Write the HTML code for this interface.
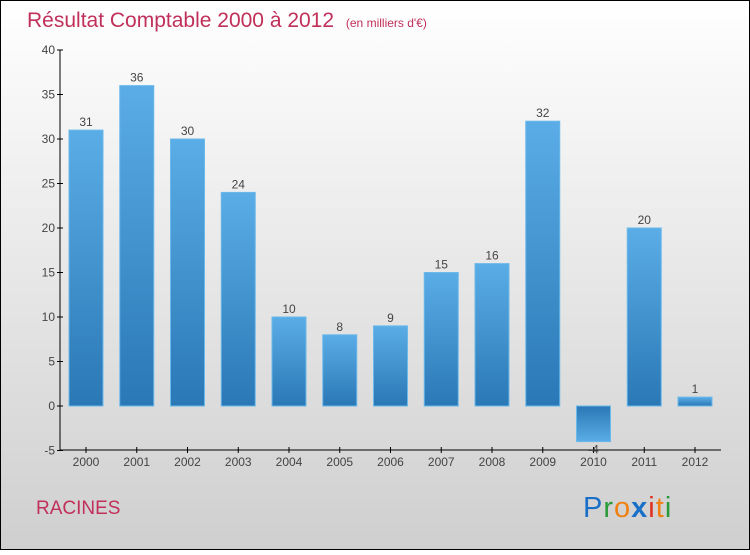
<!DOCTYPE html>
<html><head><meta charset="utf-8"><style>
body{margin:0}
svg text{font-family:"Liberation Sans",sans-serif}
</style></head><body>
<svg width="750" height="550" viewBox="0 0 750 550" xmlns="http://www.w3.org/2000/svg">
<defs>
<linearGradient id="bg" x1="0" y1="0" x2="0" y2="1"><stop offset="0" stop-color="#ffffff"/><stop offset="1" stop-color="#cfcfcf"/></linearGradient>
<linearGradient id="bp" x1="0" y1="0" x2="0" y2="1"><stop offset="0" stop-color="#5aade6"/><stop offset="1" stop-color="#2a78b6"/></linearGradient>
<linearGradient id="bn" x1="0" y1="0" x2="0" y2="1"><stop offset="0" stop-color="#2a78b6"/><stop offset="1" stop-color="#5aade6"/></linearGradient>
</defs>
<rect x="0.5" y="0.5" width="749" height="549" fill="url(#bg)" stroke="#000"/>
<text x="27" y="27" font-size="21" fill="#c0305a">Résultat Comptable 2000 à 2012 <tspan font-size="12" dx="6">(en milliers d'€)</tspan></text>
<g id="axes"></g>
<g id="bars"></g>
<text x="36" y="514" font-size="19" fill="#c0305a">RACINES</text>
<g font-size="29">
<text x="583" y="517" letter-spacing="1"><tspan fill="#1a6fc8">P</tspan><tspan fill="#2a9a3a">r</tspan><tspan fill="#f08010">o</tspan><tspan fill="#1a6fc8" font-weight="bold">x</tspan><tspan fill="#e03020">i</tspan><tspan fill="#f08010">t</tspan><tspan fill="#2a9a3a">i</tspan></text>
</g>
</svg>
<script>
const categories=["2000","2001","2002","2003","2004","2005","2006","2007","2008","2009","2010","2011","2012"];
const values=[31,36,30,24,10,8,9,15,16,32,-4,20,1];
const yTicks=[-5,0,5,10,15,20,25,30,35,40];
const NS="http://www.w3.org/2000/svg";
const y=v=>406-v*8.9;
const x=i=>86+i*50.75;
function mk(t,a,p){const e=document.createElementNS(NS,t);for(const k in a)e.setAttribute(k,a[k]);p.appendChild(e);return e;}
const ax=document.getElementById('axes'),bs=document.getElementById('bars');
const yl=mk('line',{x1:60,y1:50,x2:60,y2:450,stroke:'#000'},ax);


const xl=mk('line',{x1:60,y1:450,x2:721,y2:450,stroke:'#000'},ax);


yTicks.forEach(t=>{
 mk('line',{x1:57,x2:63,y1:y(t),y2:y(t),stroke:'#000'},ax);
 const tx=mk('text',{x:55,y:y(t)+4,'text-anchor':'end','font-size':12,fill:'#444'},ax);
 tx.textContent=t;
 
 
});
categories.forEach((c,i)=>{
 mk('line',{x1:x(i),x2:x(i),y1:447,y2:453,stroke:'#000'},ax);
 const tx=mk('text',{x:x(i),y:466,'text-anchor':'middle','font-size':12,fill:'#444'},ax);
 tx.textContent=c;
 
 
 const v=values[i];
 const r=mk('rect',{x:x(i)-17,width:34,y:Math.min(y(v),y(0)),height:Math.abs(y(v)-y(0)),fill:v>=0?'url(#bp)':'url(#bn)',stroke:'#6bb8ea','stroke-width':1},bs);
 
 
 const lt=mk('text',{x:x(i),y:v>=0?y(v)-4:y(v)+12,'text-anchor':'middle','font-size':12,fill:'#444'},bs);
 lt.textContent=v;
 
 
});
</script>
</body></html>
